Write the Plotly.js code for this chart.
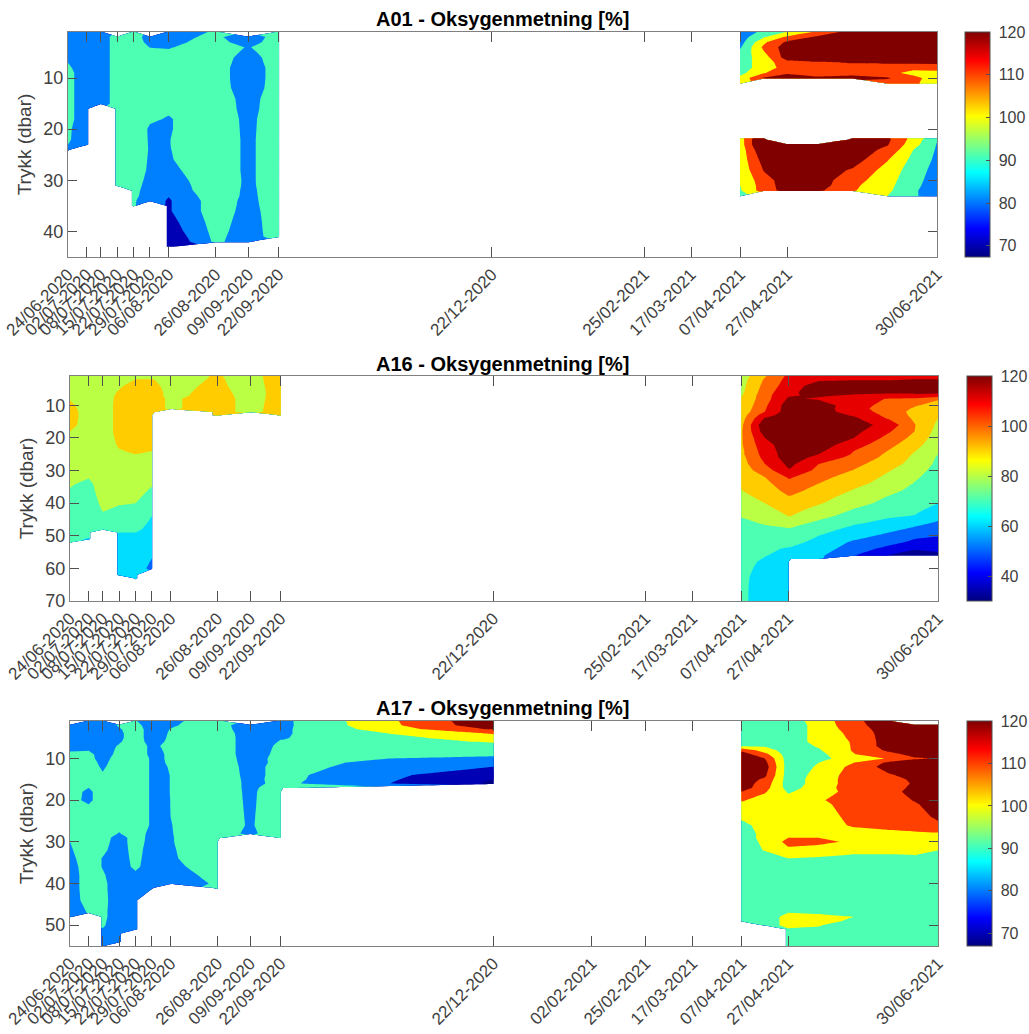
<!DOCTYPE html>
<html><head><meta charset="utf-8">
<script src="https://cdn.plot.ly/plotly-3.0.1.min.js"></script>
<style>html,body{margin:0;padding:0;background:#fff}#c{width:1029px;height:1034px}</style>
</head><body><div id="c"></div>
<script>
const N = null;
const tickDates = ['2020-06-24','2020-07-02','2020-07-08','2020-07-15','2020-07-22','2020-07-29','2020-08-06','2020-08-26','2020-09-09','2020-09-22','2020-12-22','2021-02-25','2021-03-17','2021-04-07','2021-04-27','2021-06-30'];
const tickLabels = ['24/06-2020','02/07-2020','08/07-2020','15/07-2020','22/07-2020','29/07-2020','06/08-2020','26/08-2020','09/09-2020','22/09-2020','22/12-2020','25/02-2021','17/03-2021','07/04-2021','27/04-2021','30/06-2021'];
const tickDates17 = ['2020-06-24','2020-07-02','2020-07-08','2020-07-15','2020-07-22','2020-07-29','2020-08-06','2020-08-26','2020-09-09','2020-09-22','2020-12-22','2021-02-02','2021-02-25','2021-03-17','2021-04-07','2021-04-27','2021-06-30'];
const tickLabels17 = ['24/06-2020','02/07-2020','08/07-2020','15/07-2020','22/07-2020','29/07-2020','06/08-2020','26/08-2020','09/09-2020','22/09-2020','22/12-2020','02/02-2021','25/02-2021','17/03-2021','07/04-2021','27/04-2021','30/06-2021'];

const dates01 = ['2020-06-24','2020-07-02','2020-07-08','2020-07-15','2020-07-22','2020-07-29','2020-08-06','2020-08-26','2020-09-09','2020-09-22','2020-09-23','2021-04-06','2021-04-07','2021-04-17','2021-04-27','2021-05-10','2021-05-25','2021-06-09','2021-06-20','2021-06-30'];
const dates16 = ['2020-06-24','2020-07-02','2020-07-08','2020-07-15','2020-07-22','2020-07-29','2020-07-30','2020-08-06','2020-08-26','2020-09-09','2020-09-22','2020-09-23','2021-04-06','2021-04-07','2021-04-17','2021-04-27','2021-04-28','2021-05-10','2021-05-25','2021-06-09','2021-06-20','2021-06-30'];
const dates17 = ['2020-06-24','2020-07-02','2020-07-08','2020-07-15','2020-07-22','2020-07-29','2020-08-06','2020-08-26','2020-08-27','2020-09-09','2020-09-22','2020-09-23','2020-12-22','2020-12-23','2021-04-06','2021-04-07','2021-04-17','2021-04-27','2021-05-10','2021-05-25','2021-06-09','2021-06-20','2021-06-30'];

const depth01 = [1,2,3,4,5,6,7,8,9,10,11, 12,14,15,16,18,20, 22,23,24,26,28,30,31,32,33, 34,35,36,38,40,41,42,43];
const cols01 = [
[85,85,85,85,85,87,90,91,92,92,92, 92,92,92,92,92,91, 91,90,89,N,N,N,N,N,N, N,N,N,N,N,N,N,N],
[84,84,84,84,84,84,85,86,86,86,86, 86,86,86,86,86,86, 85,84,N,N,N,N,N,N,N, N,N,N,N,N,N,N,N],
[84,84,84,84,84,84,84,84,84,84,84, 84,84,84,N,N,N, N,N,N,N,N,N,N,N,N, N,N,N,N,N,N,N,N],
[N,95,95,95,95,95,95,95,95,95,95, 95,95,95,95,95,95, 95,95,95,95,95,95,95,N,N, N,N,N,N,N,N,N,N],
[95,95,95,95,95,95,95,95,95,95,95, 95,95,95,95,95,95, 95,95,95,95,95,93,93,92,92, 91,91,N,N,N,N,N,N],
[N,85,87,89.8,92,94,95,95,95,95,95, 95,95,95,95,91,89, 89.2,89.3,89.4,89,88.5,88,87,87,86, 85,N,N,N,N,N,N,N],
[85,87,88,89.5,91,93,95,95,95,95,95, 95,95,93,91,89.5,89.5, 89.8,89.8,89.7,89.4,88.2,85.6,84.5,83.6,80.5, 79,79,79,76.5,74,72,70,70],
[91,92,93,94,95,95,95,95,95,95,95, 95,95,95,95,95,95, 95,95,95,95,95,96,96,96,96, 95,95,95,94,93,92.5,92,N],
[N,83.6,86,89.5,88,86,85,83.6,83.6,83.6,84, 84.5,86.7,87,87.2,88,88.2, 88.4,88.4,88.4,88.4,88.4,88.4,88.3,88,87.8, 87.5,87.2,86.7,86,85.5,85,84.8,N],
[95,95,95,95,95,95,95,95,95,95,95, 95,95,95,95,95,95, 95,95,95,95,95,95,95,95,95, 95,95,95,95,95,95,N,N],
[N,N,N,N,N,N,N,N,N,N,N, N,N,N,N,N,N, N,N,N,N,N,N,N,N,N, N,N,N,N,N,N,N,N],
[N,N,N,N,N,N,N,N,N,N,N, N,N,N,N,N,N, N,N,N,N,N,N,N,N,N, N,N,N,N,N,N,N,N],
[85,85,86,89,92,95,95,95,97,103,106, N,N,N,N,N,N, 105,105,104,104,103,101,100,99,96, N,N,N,N,N,N,N,N],
[92,99,108,112,109,105,105,105,109,121,N, N,N,N,N,N,N, 135,135,130,124,120.5,116,115,115,N, N,N,N,N,N,N,N,N],
[100.5,112,122,125,125,125,116,114,119,124,N, N,N,N,N,N,N, N,125,125,125,125,125,125,124,N, N,N,N,N,N,N,N,N],
[112,122,125,125,125,125,119,115,115,122,N, N,N,N,N,N,N, N,125,125,125,125,125,125,122,N, N,N,N,N,N,N,N,N],
[125,125,125,125,125,125,120.5,116,118,122,N, N,N,N,N,N,N, 125,125,125,125,119,114,112,111,N, N,N,N,N,N,N,N,N],
[125,125,125,125,125,125,121,116,113,121,116, N,N,N,N,N,N, 122,120.5,118,110.5,106,104,103,102,100, N,N,N,N,N,N,N,N],
[125,125,125,125,125,125,122,113,107,113,112, N,N,N,N,N,N, 106,104,100,97,95,93,92,91,91, N,N,N,N,N,N,N,N],
[125,125,125,125,125,125,122,114,107,105,104, N,N,N,N,N,N, 90.5,89.5,89,88,86.5,86,86,86,86, N,N,N,N,N,N,N,N]
];

const depth16 = [1,2,4,6,7,8,10,11,12,13, 14,16,18,20,22,24,25,26,28,30, 32,34,36,38,40,42,44,46,48,49, 50,51,52,54,56,57,58,60,62,63,66,70];
const cols16 = [
[85,85,86,87,88,89.5,92,93,94,94, 94,93,90,89,88,87,86,86,85,84, 83,81,79.5,78,76,75,75,75,74,74, 73,72.5,72,N,N,N,N,N,N,N,N,N],
[85,85,85,85,85,85,85,85,85,85, 85,85,85,85,84,84,83.5,83,82.5,82, 80.5,78,77,76,75,75,74,74,73,73, 72,69,N,N,N,N,N,N,N,N,N,N],
[85,85,85,85,85,85,85,85,85,85, 85,85,85,85,85,85,85,85,85,85, 85,84.5,84,83,82,80.5,79,76,74,N, N,N,N,N,N,N,N,N,N,N,N,N],
[86,87,88.5,91,92,92.5,93,93,93,93, 93,93,93,92,91,89.5,89,88.5,87,86, 85,84,83,82,80.5,79,76,74,72,70, 69,68,67,66,65,65,64.5,64,64,N,N,N],
[89,90,94,95,95,95,95,95,95,95, 95,95,95,95,93,91,90,89,87.5,86.5, 85.5,84.5,83,81.5,80,78.5,76,74,72,70, 69,68,67,65,64.5,64,63.5,63,62,62,N,N],
[89,90,93,95,95,95,95,95,95,95, 95,95,95,95,92,90,89.5,89,87,85, 83,81,79,77.5,75,72.5,70,68.5,67,66, 65,64.5,63.5,62,60.5,60,59.5,58.5,N,N,N,N],
[89,90,92,94,94,94,94,94,94,N, N,N,N,N,N,N,N,N,N,N, N,N,N,N,N,N,N,N,N,N, N,N,N,N,N,N,N,N,N,N,N,N],
[85,85,86.5,86.7,86.7,88,88,88,N,N, N,N,N,N,N,N,N,N,N,N, N,N,N,N,N,N,N,N,N,N, N,N,N,N,N,N,N,N,N,N,N,N],
[91,91.5,92.3,94,95,96,96,96,96,96, N,N,N,N,N,N,N,N,N,N, N,N,N,N,N,N,N,N,N,N, N,N,N,N,N,N,N,N,N,N,N,N],
[85,85,85,85,85,85,85,85,85,N, N,N,N,N,N,N,N,N,N,N, N,N,N,N,N,N,N,N,N,N, N,N,N,N,N,N,N,N,N,N,N,N],
[97,96.5,95.5,94.5,94.8,95,96,96.5,97,97, N,N,N,N,N,N,N,N,N,N, N,N,N,N,N,N,N,N,N,N, N,N,N,N,N,N,N,N,N,N,N,N],
[N,N,N,N,N,N,N,N,N,N, N,N,N,N,N,N,N,N,N,N, N,N,N,N,N,N,N,N,N,N, N,N,N,N,N,N,N,N,N,N,N,N],
[N,N,N,N,N,N,N,N,N,N, N,N,N,N,N,N,N,N,N,N, N,N,N,N,N,N,N,N,N,N, N,N,N,N,N,N,N,N,N,N,N,N],
[85,86,87,88,89.5,90.5,92,93,94,95, 96,98,99,99,99,98,98,97,96,95, 93,91.5,90,88,86,84,80.5,78,76,75, 75,75,75,75,74,74,74,74,73,73,73,73],
[99,101,103,105,106,106,108,109,110,116, 121,128,125,120,117,115,114,113,110,105, 100,97,95,92,90,87,84,81,78,77, 76,75,74,72,70.5,69.5,68,66,65,64,63,62.7],
[112,113,115,118,119.5,121,125,125,125,125, 125,125,125,125,125,125,125,125,122,119, 111,107,103,99.5,96,93,90,84,79,78, 76,75,73,69,67,66,65.5,65,65,65,65,65],
[112,113,115,118,119.5,121,125,125,125,125, 125,125,125,125,125,125,125,125,122,119, 111,107,103,99.5,96,93,90,84,79,78, 76,75,73,69,67,66,N,N,N,N,N,N],
[113,118,125,125,121,119,125,125,125,125, 125,125,125,125,125,122,120,117,110,107, 103,100,97,94,91,87,83,78,74,72, 70,68.5,67,65,62,61,N,N,N,N,N,N],
[113,119,125,122,119,117,115,114,115,119, 122,125,123,120,115,110,109,107,103,99.5, 96,93,89.5,86,83,79.5,76,71.5,67,65, 63,61,58.5,55,50.5,N,N,N,N,N,N,N],
[114,119,125,122,117,109,106,105,106,107, 109,116,111,107,103,99.5,98,97,94,90.5, 88,86,83,79.5,77.5,74,71,67.5,62.5,60, 58,55.5,53,47,39.5,N,N,N,N,N,N,N],
[114,120,125,122,118,108,101,99,97,97.5, 98.5,100.5,100,97,94,90.5,89,88,86.5,84, 81.5,79.5,77.5,76,74,72,69.5,63,58,56, 52,50,48,40.5,37,N,N,N,N,N,N,N],
[114,120,125,122,117,101,96,94,92,91, 90,88,86.5,85,83,81,80,79,78,76.5, 75.5,74,73,71.5,70,67,63,59,55,53, 50.5,48.5,46.5,42,38,N,N,N,N,N,N,N]
];

const depth17 = [1,2,3,4,5,6,7,8,9,10, 11,12,14,15,16,17,18,20,21,24, 26,28,29,30,32,34,36,38,40,41, 44,47,48,49,50,51,52,54,55];
const cols17 = [
[N,85,85,85,85,85,87,89.5,91,92, 93,93,94,94,94,94,94,93,93,93, 93,92,91.5,90,89,87.6,86,85,85,85, 85,85,85,N,N,N,N,N,N],
[85,85,85,85,85,85,87,89.5,93,94, 95,95,95,92,91,90,88,88,90,94, 95,95,95,95,95,95,95,95,95,95, 94,90.6,N,N,N,N,N,N,N],
[85,85,85,85,85,85,85,85,85,85, 87,88.5,91,93,95,95,95,95,95,95, 95,95,95,94,92,89.5,89.5,91,92,92, 92.5,92,92,91.5,91,89.5,88,87,86],
[N,91,89,88,88,89,91,92,93,96, 96,96,96,96,96,96,96,96,96,96, 93,89.5,85,85,85,85,85,85,85,85, 85,85,85,85,85,85,85,85,N],
[90.5,93,95,95,95,95,95,95,95,95, 95,95,95,95,95,95,95,95,95,95, 95,95,95,95,94,93,92,88,85,85, 85,85,85,85,85,85,N,N,N],
[85,85,85,85,85,86,88,88,88,89, 89,89,89,89,89,89,89,89,89,89, 89,87,86.5,86,85,85,85,85,85,85, N,N,N,N,N,N,N,N,N],
[88,89,90.3,91,91.5,92,92.5,91.5,91,90.5, 90.4,90.2,90.05,90.05,90.05,90.05,90.05,90.02,90.02,90, 89.8,89.7,89.6,89.6,89.3,89,87.5,83,81,N, N,N,N,N,N,N,N,N,N],
[95,95,95,95,95,95,95,95,95,95, 95,95,95,95,95,95,95,95,95,95, 95,95,95,95,95,95,95,95,92,92, N,N,N,N,N,N,N,N,N],
[95,95,95,95,95,95,95,95,95,95, 95,95,95,95,95,95,95,95,95,95, 95,95,95,N,N,N,N,N,N,N, N,N,N,N,N,N,N,N,N],
[N,81.5,83,85,85.4,85.4,85.4,85.4,85.4,86, 86.5,87,87.5,87.8,88,88,88.2,88.4,88.5,88.8, 89,87.6,N,N,N,N,N,N,N,N, N,N,N,N,N,N,N,N,N],
[88,88,88.5,89,89.5,90.5,91.5,92,92.5,93, 92.5,93,92.5,92.5,92,95,96,96,96,96, 96,97,97,N,N,N,N,N,N,N, N,N,N,N,N,N,N,N,N],
[88,88,88.5,89,89.5,90.5,91.5,92,92.5,93, 92.5,93,92.5,92.5,92,92,N,N,N,N, N,N,N,N,N,N,N,N,N,N, N,N,N,N,N,N,N,N,N],
[128,127,121,111,105,101,97,95,92.5,87, 84,80,72,70,68.5,N,N,N,N,N, N,N,N,N,N,N,N,N,N,N, N,N,N,N,N,N,N,N,N],
[N,N,N,N,N,N,N,N,N,N, N,N,N,N,N,N,N,N,N,N, N,N,N,N,N,N,N,N,N,N, N,N,N,N,N,N,N,N,N],
[N,N,N,N,N,N,N,N,N,N, N,N,N,N,N,N,N,N,N,N, N,N,N,N,N,N,N,N,N,N, N,N,N,N,N,N,N,N,N],
[95,95,95,95,95,95,99,118,125,125, 125,125,125,125,125,125,120,111,108,102, 97,95,95,95,95,95,95,95,95,95, 95,95,95,95,N,N,N,N,N],
[95,95,95,95,95,95,99,105,113,120, 123,125,122,118.5,116,114,111,106,105,104, 104,103,103,102,100.5,96,95,95,95,95, 95,95,95,95,95,N,N,N,N],
[96,95,95,95,95,95,95,95,95,95, 95,95,95,95,95,96,99,103,104,105, 106,107,110,113,108,100,97,96,96,96, 97,100,103,103,103,99,97,95,95],
[103.5,103,103,103,103,103,101,99,97,96, 100,101,103,104,104,105,105,108,107,105, 106,108,110,113,105,99,96,95,95,95, 95,99,102,102,100.5,99,97,95,95],
[118,117,115,113,112,111,111,111,109.5,107, 110,113,115,115,115,115,114,118,115,113, 111,107,106,108,102,98,96,95,95,95, 95,97,100,99,96,95,95,95,95],
[125,125,125,125,125,125,125,122,117,110.5, 122,124,119,118,116.5,116,116,116,116,114, 112,108.5,107,106,102,98,96,95,95,95, 95,95,95,95,95,95,95,95,95],
[N,125,125,125,125,125,125,125,123,119, 124,125,123,121,120.8,122,124,120.5,119,115.5, 113,109,108,107,103,98,96,95,95,95, 95,95,95,95,95,95,95,95,95],
[N,125,125,125,125,125,125,125,125,120.5, 125,125,125,125,125,125,125,125,124,122, 118,109,107,106,100,97,95,95,95,95, 95,95,95,95,95,95,95,95,95]
];

const bands01 = ['#000080','#0000B4','#0080FF','#4DFFB3','#FFFF00','#FF4000','#800000'];
const bands16 = ['#00008F','#0000E6','#0066FF','#00DDFF','#4DFFB3','#BBFF44','#FFCC00','#FF6600','#E60000','#7F0000'];
const jet = [[0,'#00007F'],[0.125,'#0000FF'],[0.375,'#00FFFF'],[0.625,'#FFFF00'],[0.875,'#FF0000'],[1,'#7F0000']];

const W = 1029, H = 1034, textCol = '#404040', lineCol = '#808080', fontFam = '"Liberation Sans", Arial, sans-serif';
const panels = [
 {title:'A01 - Oksygenmetning [%]', dates:dates01, depth:depth01, cols:cols01, bands:bands01, start:70, ymax:45, ytop:32, ybot:257, xl:68, xr:937, cbx:965, cmin:67.4, cbTicks:[70,80,90,100,110,120], td:tickDates, tl:tickLabels, ty:19},
 {title:'A16 - Oksygenmetning [%]', dates:dates16, depth:depth16, cols:cols16, bands:bands16, start:40, ymax:70, ytop:376, ybot:601, xl:70, xr:938, cbx:967, cmin:30, cbTicks:[40,60,80,100,120], td:tickDates, tl:tickLabels, ty:364},
 {title:'A17 - Oksygenmetning [%]', dates:dates17, depth:depth17, cols:cols17, bands:bands01, start:70, ymax:55, ytop:721, ybot:946, xl:70, xr:938, cbx:967, cmin:67, cbTicks:[70,80,90,100,110,120], td:tickDates17, tl:tickLabels17, ty:708}
];

const traces = [], annotations = [], layout = {
  width:W, height:H, margin:{l:0,r:0,t:0,b:0,pad:0,autoexpand:false},
  paper_bgcolor:'#fff', plot_bgcolor:'#fff', showlegend:false,
  font:{family:fontFam, color:textCol}, annotations
};
panels.forEach((p,i)=>{
  const s = i===0 ? '' : String(i+1);
  const nb = p.bands.length;
  const z = p.depth.map((_,r)=>p.cols.map(c=>c[r]));
  traces.push({type:'contour', x:p.dates, y:p.depth, z:z, xaxis:'x'+s, yaxis:'y'+s,
    autocontour:false, connectgaps:false, showscale:false, hoverinfo:'skip',
    contours:{start:p.start, end:120, size:10, coloring:'fill', showlines:false},
    line:{width:0, smoothing:0},
    colorscale:p.bands.map((c,k)=>[k/(nb-1),c])});
  traces.push({type:'scatter', mode:'markers', x:['2020-12-01','2020-12-02'], y:[p.ymax-1,p.ymax-1], xaxis:'x'+s, yaxis:'y'+s, hoverinfo:'skip',
    marker:{size:1, opacity:0, color:[p.cmin,120], cmin:p.cmin, cmax:120, colorscale:jet, showscale:true,
      colorbar:{x:p.cbx/W, xanchor:'left', xpad:0, y:1-p.ytop/H, yanchor:'top', ypad:0,
        len:p.ybot-p.ytop, lenmode:'pixels', thickness:25, thicknessmode:'pixels',
        outlinewidth:1, outlinecolor:'#505050', borderwidth:0,
        tickmode:'array', tickvals:p.cbTicks, ticktext:p.cbTicks.map(v=>'\u00A0'+v),
        ticks:'inside', ticklen:4, tickcolor:'#505050', tickfont:{size:16, color:textCol, family:fontFam}}}});
  layout['xaxis'+s] = {type:'date', domain:[p.xl/W,p.xr/W], anchor:'y'+s, range:['2020-06-24','2021-06-30'],
    tickmode:'array', tickvals:p.td, ticktext:p.tl, tickangle:-45, ticks:'inside', ticklen:10, tickcolor:'#505050', tickwidth:1,
    mirror:'ticks', showline:true, linecolor:lineCol, linewidth:1, showgrid:false, zeroline:false,
    tickfont:{size:17, color:textCol, family:fontFam}};
  layout['yaxis'+s] = {domain:[1-p.ybot/H,1-p.ytop/H], anchor:'x'+s, range:[p.ymax,1], autorange:false,
    tickmode:'array', tickvals:[10,20,30,40,50,60,70].filter(v=>v<=p.ymax), ticks:'inside', ticklen:9, tickcolor:'#505050', tickwidth:1,
    mirror:'ticks', showline:true, linecolor:lineCol, linewidth:1, showgrid:false, zeroline:false,
    tickfont:{size:18, color:textCol, family:fontFam},
    title:{text:'Trykk (dbar)', standoff:6, font:{size:19, color:textCol, family:fontFam}}};
  annotations.push({xref:'paper', yref:'paper', x:502/W, y:1-p.ty/H, xanchor:'center', yanchor:'middle', showarrow:false,
    text:'<b>'+p.title+'</b>', font:{size:20, color:'#000', family:fontFam}});
});
Plotly.newPlot('c', traces, layout, {displayModeBar:false, staticPlot:true});
</script></body></html>
